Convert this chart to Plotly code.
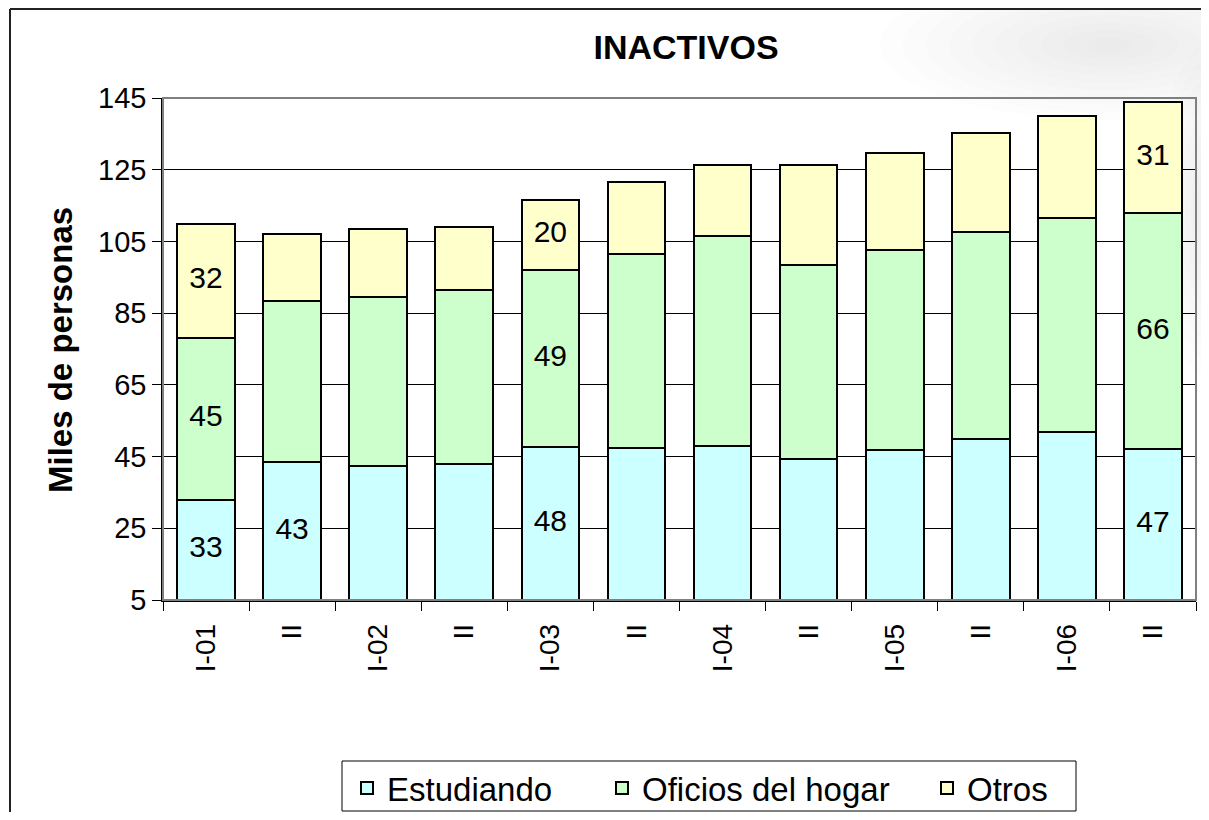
import plotly.graph_objects as go

# ---- data ----
categories = ["I-01", "II", "I-02", "II", "I-03", "II", "I-04", "II", "I-05", "II", "I-06", "II"]
estudiando = [33, 43.4, 42.4, 43, 47.6, 47.4, 48, 44.3, 46.8, 49.9, 51.8, 47]
oficios = [45, 45, 47, 48.4, 49.4, 54.1, 58.6, 54.1, 55.8, 57.7, 59.7, 66]
otros = [32, 18.6, 19, 17.6, 19.6, 20.1, 19.8, 27.9, 27.1, 27.6, 28.5, 31]
# which bars carry value labels (index list per series)
est_labeled = [0, 1, 4, 11]
ofi_labeled = [0, 4, 11]
otr_labeled = [0, 4, 11]

series_names = ["Estudiando", "Oficios del hogar", "Otros"]
colors = ["#CCFFFF", "#CCFFCC", "#FFFFCC"]
y_min, y_max, y_step = 5, 145, 20

FONT = "Liberation Sans, Arial, sans-serif"
x = list(range(len(categories)))

# page offset (browser body margin); figure kept inside the viewport
OFF = 8
W, H = 1209 - 2 * OFF, 820 - 2 * OFF
PL, PR, PT, PB = 163 - OFF, 1196 - OFF, 98 - OFF, 600 - OFF   # plot box in figure px
PW, PH = PR - PL, PB - PT


def px(xp):   # page x -> paper x
    return (xp - OFF - PL) / PW


def py(yp):   # page y -> paper y
    return (PB - (yp - OFF)) / PH


fig = go.Figure()
legend_ids = ["legend", "legend2", "legend3"]
for name, vals, col, lg in zip(series_names, [estudiando, oficios, otros], colors, legend_ids):
    fig.add_trace(go.Bar(
        x=x, y=vals, name=name, width=0.67, legend=lg,
        marker=dict(color=col, line=dict(color="black", width=2)),
        hoverinfo="skip",
    ))

# value labels centred in the visible part of each segment
bases_est = [0] * len(x)
bases_ofi = estudiando
bases_otr = [a + b for a, b in zip(estudiando, oficios)]
lx, ly, lt = [], [], []
for vals, bases, idxs in [(estudiando, bases_est, est_labeled),
                          (oficios, bases_ofi, ofi_labeled),
                          (otros, bases_otr, otr_labeled)]:
    for i in idxs:
        lo = max(bases[i], y_min)
        hi = bases[i] + vals[i]
        lx.append(x[i])
        ly.append((lo + hi) / 2)
        lt.append(f"{vals[i]:.0f}")
fig.add_trace(go.Scatter(x=lx, y=ly, text=lt, mode="text", showlegend=False,
                         textfont=dict(family=FONT, size=30, color="black"),
                         hoverinfo="skip"))

# one legend per series so each entry sits where the original places it
text_starts = [387, 642, 967]   # page x where legend texts begin
legend_style = dict(orientation="h", xanchor="left", yanchor="middle",
                    y=py(788), bgcolor="rgba(0,0,0,0)", borderwidth=0,
                    font=dict(family=FONT, size=33, color="black"), itemwidth=30)
legends = {lg: dict(legend_style, x=px(ts - 40)) for lg, ts in zip(legend_ids, text_starts)}

fig.update_layout(
    barmode="stack",
    width=W, height=H,
    margin=dict(l=PL, r=W - PR, t=PT, b=H - PB, autoexpand=False),
    paper_bgcolor="white", plot_bgcolor="rgba(0,0,0,0)",
    font=dict(family=FONT, color="black"),
    title=dict(text="<b>INACTIVOS</b>", x=px(686), xref="paper", xanchor="center",
               y=1 - (47 - OFF) / H, yanchor="middle",
               font=dict(family=FONT, size=34, color="black")),
    showlegend=True,
    **legends,
)

fig.update_xaxes(
    automargin=False,
    range=[-0.5, len(x) - 0.5],
    tickmode="array", tickvals=x, ticktext=categories, tickangle=-90,
    ticks="", showgrid=False, zeroline=False,
    showline=True, linecolor="black", linewidth=1.5,
    tickfont=dict(family=FONT, size=28, color="black"),
    ticklabelstandoff=11,
    minor=dict(tickmode="array", tickvals=[i - 0.5 for i in range(len(x) + 1)],
               ticks="outside", ticklen=9, tickcolor="black", tickwidth=1, showgrid=False),
)
fig.update_yaxes(
    automargin=False,
    range=[y_min, y_max], tickmode="array",
    tickvals=list(range(y_min, y_max + 1, y_step)),
    ticks="outside", ticklen=9, tickcolor="black",
    showgrid=True, gridcolor="black", gridwidth=1, zeroline=False,
    showline=True, linecolor="black", linewidth=1.5,
    tickfont=dict(family=FONT, size=29, color="black"),
)

fig.add_annotation(text="<b>Miles de personas</b>", textangle=-90,
                   xref="paper", yref="paper", x=px(60), y=py(350),
                   xanchor="center", yanchor="middle", showarrow=False,
                   font=dict(family=FONT, size=33, color="black"))

# soft grey sheen in the top-right corner of the chart area
for cx, cy, rx, ry, n in [(1110, 45, 230, 75, 10), (1215, 210, 60, 170, 10)]:
    for k in range(n):
        f = 1 - k / n
        fig.add_shape(type="circle", xref="paper", yref="paper", layer="below",
                      x0=px(cx - rx * f), x1=px(cx + rx * f),
                      y0=py(cy + ry * f), y1=py(cy - ry * f),
                      fillcolor="rgba(110,110,110,0.014)", line=dict(width=0))

# plot-area border (grey), legend box and outer chart border (top + left edges only)
fig.add_shape(type="rect", xref="paper", yref="paper", x0=0, y0=0, x1=1, y1=1,
              line=dict(color="#808080", width=2), layer="above")
fig.add_shape(type="rect", xref="paper", yref="paper",
              x0=px(342), x1=px(1076), y0=py(811), y1=py(761),
              line=dict(color="black", width=1), fillcolor="white", layer="below")
fig.add_shape(type="line", xref="paper", yref="paper",
              x0=px(10), x1=px(1260), y0=py(9), y1=py(9),
              line=dict(color="#222222", width=2), layer="below")
fig.add_shape(type="line", xref="paper", yref="paper",
              x0=px(10), x1=px(10), y0=py(9), y1=py(900),
              line=dict(color="#222222", width=2), layer="below")

fig.write_html("out.html")
